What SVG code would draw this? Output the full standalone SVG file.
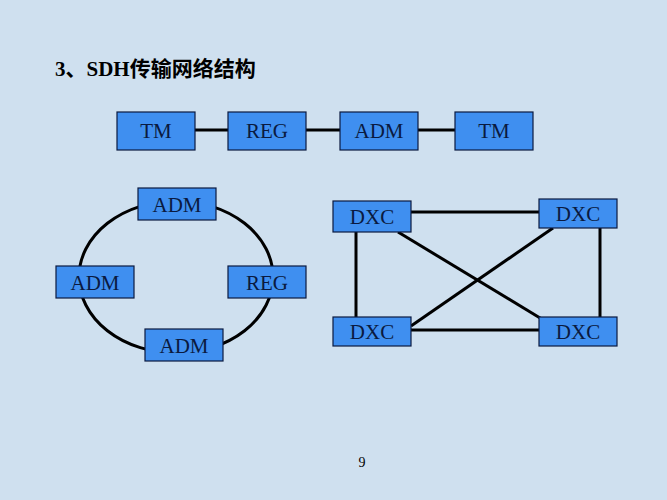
<svg xmlns="http://www.w3.org/2000/svg" width="667" height="500" viewBox="0 0 667 500">
<style>
.n{fill:#3f8ff0;stroke:#0a1a40;stroke-width:1.2}
.t{font-family:"Liberation Serif",serif;font-size:21px;fill:#0a1a40;text-anchor:middle}
.c{stroke:#000;stroke-width:3;fill:none}
</style>
<rect width="667" height="500" fill="#cfe0ef"/>
<text x="55" y="76" font-family="'Liberation Serif','Noto Sans CJK SC',serif" font-size="21" font-weight="bold" fill="#000">3、SDH传输网络结构</text>
<g id="connectors">
<line class="c" x1="195" y1="130" x2="455" y2="130"/>
<ellipse class="c" cx="176" cy="277" rx="97" ry="76"/>
<line class="c" x1="411" y1="212" x2="539" y2="212"/>
<line class="c" x1="411" y1="330" x2="539" y2="330"/>
<line class="c" x1="356" y1="232" x2="356" y2="317"/>
<line class="c" x1="600" y1="228" x2="600" y2="317"/>
<line class="c" x1="398" y1="232" x2="545" y2="321"/>
<line class="c" x1="411" y1="326" x2="553" y2="228"/>
</g>
<g id="tm1"><rect class="n" x="117" y="112" width="78" height="38"/><text class="t" x="156" y="138">TM</text></g>
<g id="reg1"><rect class="n" x="228" y="112" width="78" height="38"/><text class="t" x="267" y="138">REG</text></g>
<g id="adm1"><rect class="n" x="340" y="112" width="78" height="38"/><text class="t" x="379" y="138">ADM</text></g>
<g id="tm2"><rect class="n" x="455" y="112" width="78" height="38"/><text class="t" x="494" y="138">TM</text></g>
<g id="ringTop"><rect class="n" x="138" y="188" width="78" height="32"/><text class="t" x="177" y="212">ADM</text></g>
<g id="ringLeft"><rect class="n" x="56" y="266" width="78" height="32"/><text class="t" x="95" y="290">ADM</text></g>
<g id="ringRight"><rect class="n" x="228" y="266" width="78" height="32"/><text class="t" x="267" y="290">REG</text></g>
<g id="ringBottom"><rect class="n" x="145" y="329" width="78" height="32"/><text class="t" x="184" y="353">ADM</text></g>
<g id="dxcTL"><rect class="n" x="333" y="201" width="78" height="31"/><text class="t" x="372" y="224">DXC</text></g>
<g id="dxcTR"><rect class="n" x="539" y="199" width="78" height="29"/><text class="t" x="578" y="221">DXC</text></g>
<g id="dxcBL"><rect class="n" x="333" y="317" width="78" height="29"/><text class="t" x="372" y="339">DXC</text></g>
<g id="dxcBR"><rect class="n" x="539" y="317" width="78" height="29"/><text class="t" x="578" y="339">DXC</text></g>
<text x="362" y="467" font-family="'Liberation Serif',serif" font-size="14" fill="#000" text-anchor="middle">9</text>
</svg>
